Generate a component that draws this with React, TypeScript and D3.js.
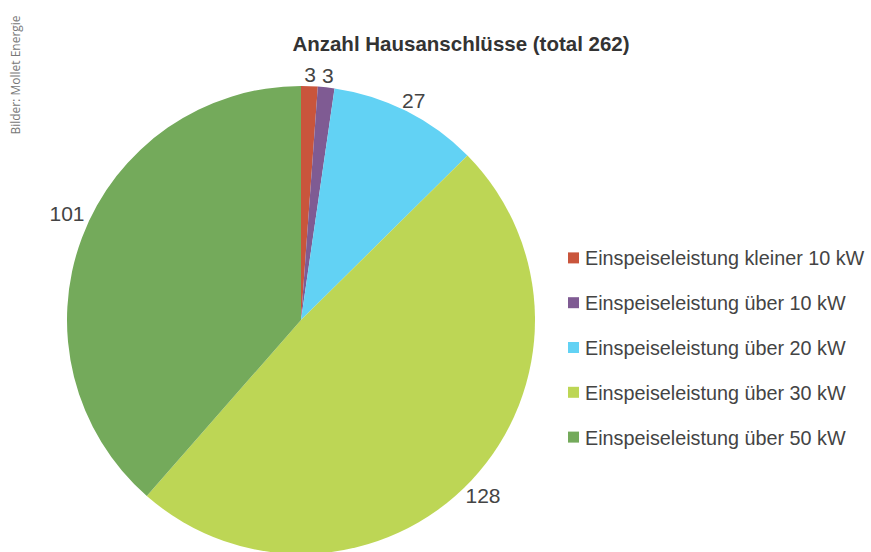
import * as d3 from 'd3';
import React, { useEffect, useRef } from 'react';

const categories = [
  'Einspeiseleistung kleiner 10 kW',
  'Einspeiseleistung über 10 kW',
  'Einspeiseleistung über 20 kW',
  'Einspeiseleistung über 30 kW',
  'Einspeiseleistung über 50 kW',
];
const values = [3, 3, 27, 128, 101];
const colors = ['#c9553c', '#7f5b93', '#62d2f4', '#bdd655', '#74aa5b'];

interface Slice {
  label: string;
  value: number;
  color: string;
}

const App: React.FC = () => {
  const svgRef = useRef<SVGSVGElement>(null);

  useEffect(() => {
    if (!svgRef.current) return;
    const width = 871;
    const height = 552;
    const svg = d3.select(svgRef.current);
    svg.selectAll('*').remove();
    svg.attr('width', width).attr('height', height);

    const data: Slice[] = categories.map((c, i) => ({ label: c, value: values[i], color: colors[i] }));

    // side credit
    svg.append('text')
      .attr('transform', 'translate(20,75) rotate(-90)')
      .attr('text-anchor', 'middle')
      .style('font-family', '"Open Sans", sans-serif')
      .style('font-size', '12px')
      .style('fill', '#777')
      .text('Bilder: Mollet Energie');

    // title
    svg.append('text')
      .attr('x', 461)
      .attr('y', 51)
      .attr('text-anchor', 'middle')
      .style('font-family', 'Liberation Sans, Arial, sans-serif')
      .style('font-weight', 'bold')
      .style('font-size', '20.5px')
      .style('fill', '#333')
      .text('Anzahl Hausanschlüsse (total 262)');

    const cx = 301;
    const cy = 320;
    const radius = 234;

    const pie = d3.pie<Slice>().value(d => d.value).sort(null);
    const arc = d3.arc<d3.PieArcDatum<Slice>>().innerRadius(0).outerRadius(radius);
    const labelArc = d3.arc<d3.PieArcDatum<Slice>>().innerRadius(250).outerRadius(250);

    const g = svg.append('g').attr('transform', `translate(${cx},${cy})`);
    const arcs = pie(data);

    g.selectAll('path')
      .data(arcs)
      .enter()
      .append('path')
      .attr('d', arc)
      .style('fill', d => d.data.color);

    g.selectAll('text.val')
      .data(arcs)
      .enter()
      .append('text')
      .attr('class', 'val')
      .attr('transform', d => {
        const [x, y] = labelArc.centroid(d);
        // labels sit a bit higher on the left side, as in the source
        return `translate(${x},${y + (x < -100 ? -18 : 4)})`;
      })
      .attr('text-anchor', 'middle')
      .attr('dy', '0.35em')
      .style('font-family', 'Liberation Sans, Arial, sans-serif')
      .style('font-size', '21px')
      .style('fill', '#444')
      .text(d => String(d.data.value));

    // legend
    const legendY = d3.scaleBand<string>().domain(categories).range([236, 460]);
    const legend = svg.append('g');
    const items = legend.selectAll('g')
      .data(data)
      .enter()
      .append('g')
      .attr('transform', d => `translate(568,${(legendY(d.label) ?? 0) + legendY.bandwidth() / 2})`);
    items.append('rect')
      .attr('x', 0)
      .attr('y', -6)
      .attr('width', 11)
      .attr('height', 11)
      .style('fill', d => d.color);
    items.append('text')
      .attr('x', 17)
      .attr('dy', '0.35em')
      .style('font-family', 'Liberation Sans, Arial, sans-serif')
      .style('font-size', '19.8px')
      .style('fill', '#444')
      .text(d => d.label);
  }, []);

  return (
    <div style={{ position: 'absolute', left: 0, top: 0 }}>
      <svg ref={svgRef} style={{ display: 'block' }} />
    </div>
  );
};

export default App;
